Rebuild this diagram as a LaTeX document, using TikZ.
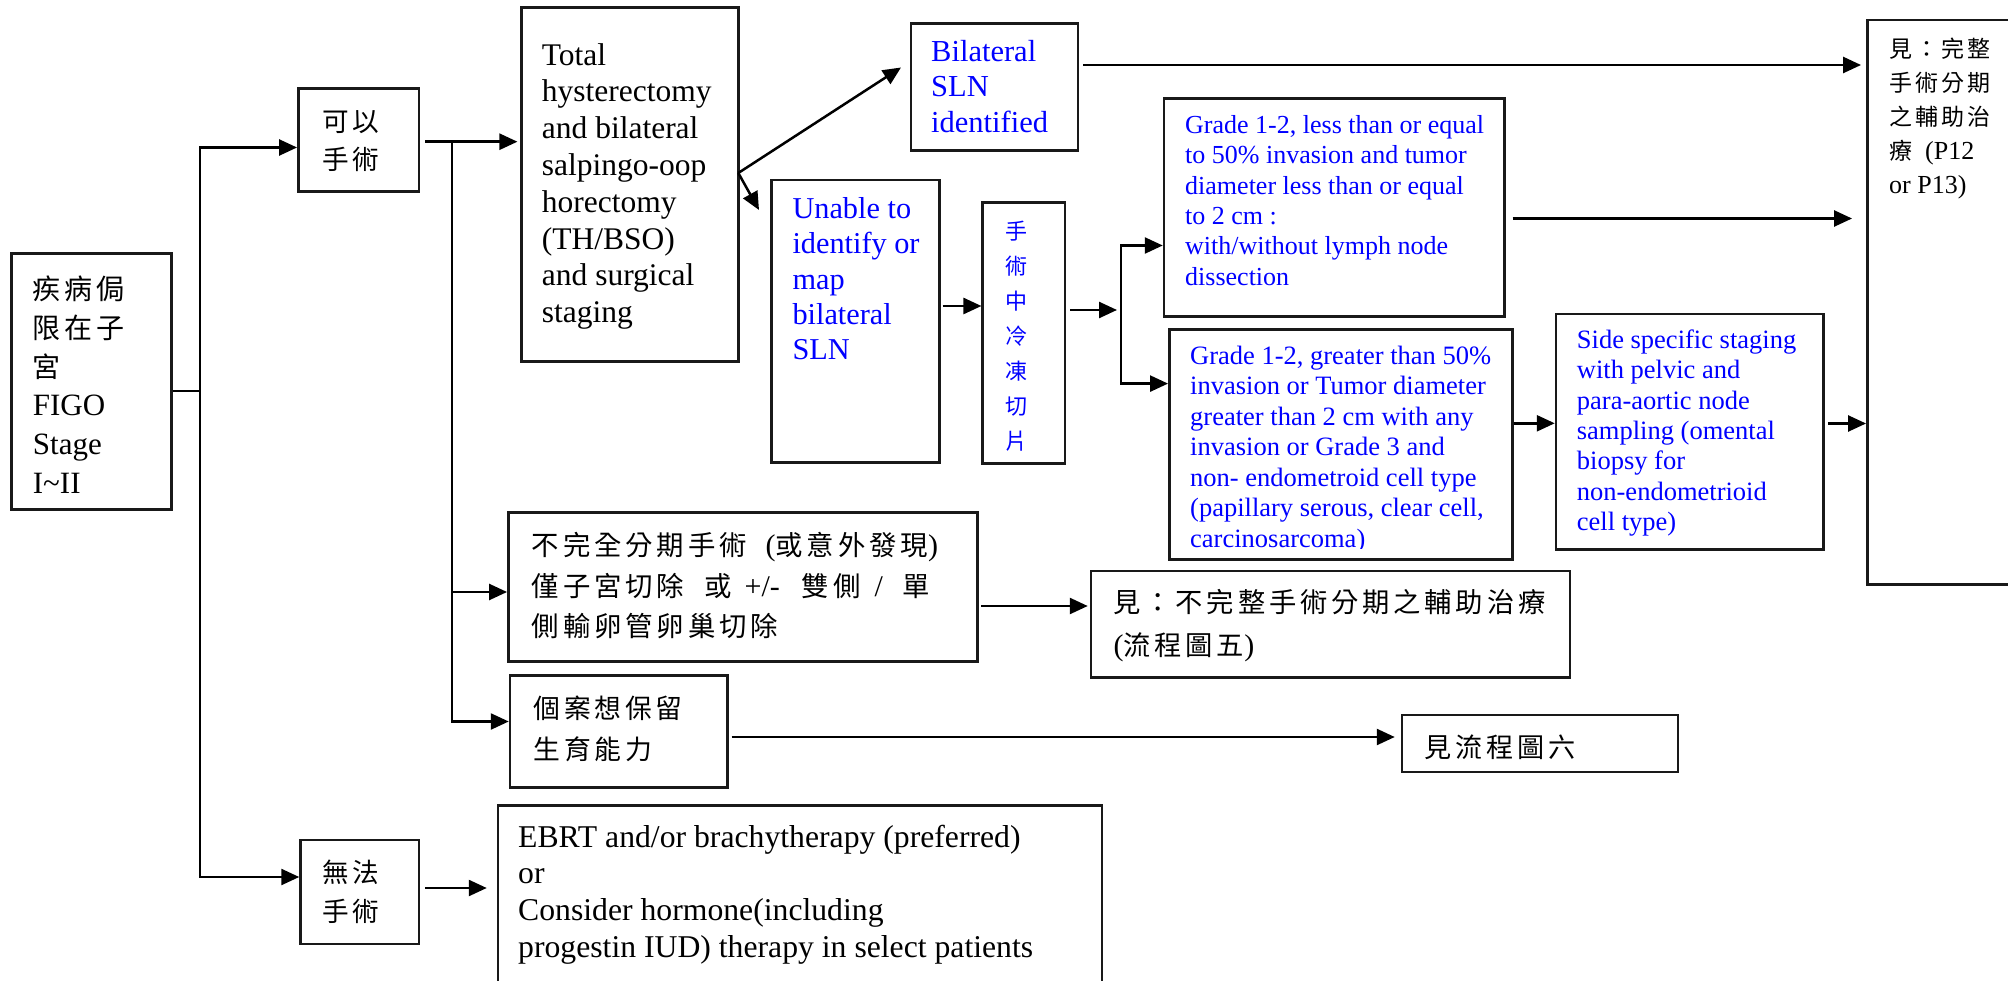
\documentclass[tikz,border=0pt]{standalone}
\usepackage{fontspec}
\setmainfont{Liberation Serif}
\newfontfamily\cjk[LetterSpace=14]{Noto Sans CJK TC}
\newfontfamily\cjkn{Noto Sans CJK TC}
\usetikzlibrary{arrows.meta,fit}
\definecolor{sblue}{RGB}{0,0,255}
% CJK run at a given size inside Latin text
\newcommand\zh[2]{{\cjk\fontsize{#1}{#1}\selectfont #2}}

\tikzset{
  box/.style={draw=black!90, line width=2.5pt, inner sep=0pt},
  txt/.style={anchor=north west, inner sep=0pt, align=left},
  line/.style={line width=2.5pt},
  arr/.style={line width=2.5pt, -{Triangle[length=18pt,width=16pt]}},
  arrs/.style={line width=2.5pt, {Triangle[length=18pt,width=16pt]}-{Triangle[length=18pt,width=16pt]}},
}

\begin{document}
\begin{tikzpicture}[x=1pt, y=-1pt]
\useasboundingbox (0,0) rectangle (2008,981);
\fill[white] (0,0) rectangle (2008,981);
\clip (0,0) rectangle (2008,981);

% ---------- boxes ----------
\node[box, fit={(11.5,253.3) (171.5,509.5)}] (stage) {};
\node[box, fit={(298.3,88.3) (419,191.7)}] (surg) {};
\node[box, fit={(300.5,840) (419,944)}] (nosurg) {};
\node[box, fit={(521.7,7.3) (738.3,361.7)}] (th) {};
\node[box, fit={(911,23.3) (1078,150.6)}] (bil) {};
\node[box, fit={(771.7,180) (939.3,462.3)}] (unab) {};
\node[box, fit={(982.7,202.3) (1065,463.3)}] (frz) {};
\node[box, fit={(1164,98.3) (1504.3,316.7)}] (less) {};
\node[box, fit={(1169.3,329.3) (1512.3,559.3)}] (grt) {};
\node[box, fit={(1556,314) (1823.3,549.3)}] (side) {};
\node[box, fit={(1867.3,20) (2040,584.4)}] (adj) {};
\node[box, fit={(508.3,512.7) (977.7,661.7)}] (inc) {};
\node[box, fit={(1091,571) (1570,677.7)}] (incadj) {};
\node[box, fit={(510,675.7) (727.3,787.3)}] (fert) {};
\node[box, fit={(1402,715) (1678,772)}] (fig6) {};
\node[box, fit={(498,805.7) (1102,1010)}] (ebrt) {};

% ---------- texts ----------
\node[txt, font=\fontsize{31}{38.8}\selectfont] (stage-t) at (32.7,272.2)
  {\strut\zh{28}{疾病侷}\\\zh{28}{限在子}\\\zh{28}{宮}\\FIGO\\Stage\\I\textasciitilde II};
\node[txt, font=\cjk\fontsize{26.6}{38.8}\selectfont] (surg-t) at (322,103.8)
  {\strut 可\kern4pt 以\\手術};
\node[txt, font=\cjk\fontsize{26.6}{38.8}\selectfont] (nosurg-t) at (322,855.5)
  {\strut 無\kern4pt 法\\手術};
\node[txt, font=\fontsize{31.5}{36.8}\selectfont] (th-t) at (541.7,39.2)
  {\strut Total\\hysterectomy\\and bilateral\\salpingo-oop\\horectomy\\(TH/BSO)\\and surgical\\staging};
\node[txt, text=sblue, font=\fontsize{30.5}{35.2}\selectfont] (bil-t) at (931,36.9)
  {\strut Bilateral\\SLN\\identified};
\node[txt, text=sblue, font=\fontsize{30.3}{35.3}\selectfont] (unab-t) at (792.3,193.6)
  {\strut Unable to\\identify or\\map\\bilateral\\SLN};
\node[anchor=north, inner sep=0pt, align=center, text=sblue,
      font=\cjkn\fontsize{22}{35}\selectfont] (frz-t) at (1016.7,214.5)
  {\strut 手\\術\\中\\冷\\凍\\切\\片};
\node[txt, text=sblue, font=\fontsize{26}{30.3}\selectfont] (less-t) at (1185,112.1)
  {\strut Grade 1-2, less than or equal\\to 50\% invasion and tumor\\diameter less than or equal\\to 2 cm :\\with/without lymph node\\dissection};
\begin{scope}
  \clip (1169.3,329.3) rectangle (1512.3,548.5);
  \node[txt, text=sblue, font=\fontsize{26.5}{30.45}\selectfont] (grt-t) at (1190,343)
    {\strut Grade 1-2, greater than 50\%\\invasion or Tumor diameter\\greater than 2 cm with any\\invasion or Grade 3 and\\non- endometroid cell type\\(papillary serous, clear cell,\\carcinosarcoma)};
\end{scope}
\node[txt, text=sblue, font=\fontsize{26.5}{30.3}\selectfont] (side-t) at (1576.7,327.1)
  {\strut Side specific staging\\with pelvic and\\para-aortic node\\sampling (omental\\biopsy for\\non-endometrioid\\cell type)};
\node[txt, font=\fontsize{26}{34}\selectfont] (adj-t) at (1889,33.2)
  {\strut\zh{23}{見：完整}\\\zh{23}{手術分期}\\\zh{23}{之輔助治}\\\zh{23}{療}\ \ (P12\\or P13)};
\node[txt, font=\fontsize{30}{40.5}\selectfont] (inc-t) at (531.7,527)
  {\strut\zh{27.4}{不完全分期手術}\hspace{19pt}(\zh{27.4}{或意外發現})\\
   \zh{27.4}{僅子宮切除}\hspace{20pt}\zh{27.4}{或}\hspace{13pt}+/-\hspace{22pt}\zh{27.4}{雙側}\hspace{14pt}/\hspace{20pt}\zh{27.4}{單}\\
   \zh{27.4}{側輸卵管卵巢切除}};
\node[txt, font=\fontsize{30}{43}\selectfont] (incadj-t) at (1113.4,581.9)
  {\strut\zh{27.3}{見：不完整手術分期之輔助治療}\\(\zh{27.3}{流程圖五})};
\node[txt, font=\cjk\fontsize{26.8}{41.5}\selectfont] (fert-t) at (533.3,689)
  {\strut 個案想保留\\生育能力};
\node[txt, font=\cjk\fontsize{27.1}{36}\selectfont] (fig6-t) at (1424.4,731.8)
  {\strut 見流程圖六};
\node[txt, font=\fontsize{31.7}{36.6}\selectfont] (ebrt-t) at (518,821.4)
  {\strut EBRT and/or brachytherapy (preferred)\\or\\Consider hormone(including\\progestin IUD) therapy in select patients};

% ---------- junctions and arrow rows ----------
\coordinate (jA) at (200,391);
\coordinate (jAt) at (200,147.5);
\coordinate (jAb) at (200,877);
\coordinate (jB) at (452,141.7);
\coordinate (jBb) at (452,721.5);
\coordinate (rInc) at (452,592);
\coordinate (thR) at (738.3,173);
\coordinate (bilIn) at (901,67.5);
\coordinate (unabIn) at (759,210);
\coordinate (rBil) at (0,65);
\coordinate (rUn) at (0,306);
\coordinate (jF) at (1121,310);
\coordinate (jFt) at (1121,245.5);
\coordinate (jFb) at (1121,383.6);
\coordinate (rLess) at (0,218.5);
\coordinate (rGrt) at (0,423.3);
\coordinate (rSide) at (0,423.5);
\coordinate (rIncA) at (0,606);
\coordinate (rFert) at (0,737);
\coordinate (rEbrt) at (0,888);

% ---------- connectors ----------
\draw[line] (stage.east |- jA) -- (jA);
\draw[arrs] (surg.west |- jAt) -| (jAb) -- (nosurg.west |- jAb);
\draw[arr, shorten <=5pt, shorten >=3pt] (surg.east |- jB) -- (th.west |- jB);
\draw[arr] (jB) |- (fert.west |- jBb);
\draw[arr] (rInc) -- (inc.west |- rInc);
\draw[arr] (thR) -- (bilIn);
\draw[arr] (thR) -- (unabIn);
\draw[arr, shorten <=4pt, shorten >=5pt] (bil.east |- rBil) -- (adj.west |- rBil);
\draw[arr, shorten <=2pt] (unab.east |- rUn) -- (frz.west |- rUn);
\draw[arr, shorten <=4pt, shorten >=4pt] (frz.east |- jF) -- (jF);
\draw[arrs] (less.west |- jFt) -| (jFb) -- (grt.west |- jFb);
\draw[arr, shorten <=7pt, shorten >=14pt] (less.east |- rLess) -- (adj.west |- rLess);
\draw[arr] (grt.east |- rGrt) -- (side.west |- rGrt);
\draw[arr, shorten <=3.4pt] (side.east |- rSide) -- (adj.west |- rSide);
\draw[arr, shorten <=2.3pt, shorten >=2pt] (inc.east |- rIncA) -- (incadj.west |- rIncA);
\draw[arr, shorten <=3pt, shorten >=6pt] (fert.east |- rFert) -- (fig6.west |- rFert);
\draw[arr, shorten <=5pt, shorten >=10pt] (nosurg.east |- rEbrt) -- (ebrt.west |- rEbrt);
\end{tikzpicture}
\end{document}
